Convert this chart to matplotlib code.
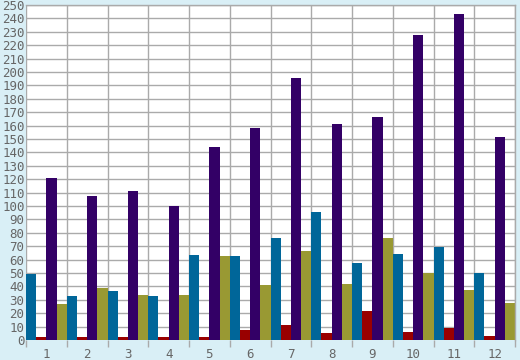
import numpy as np
import matplotlib
matplotlib.use("Agg")
import matplotlib.pyplot as plt

# Data
months = ["1", "2", "3", "4", "5", "6", "7", "8", "9", "10", "11", "12"]
blue = [49, 33, 36.5, 33, 63.5, 63, 76, 95.5, 57.5, 64, 69.5, 50]
red = [2, 2, 2.5, 2, 2.5, 7.5, 11, 5, 21.5, 6, 9, 3]
purple = [121, 107.5, 111, 100, 144, 158, 195.5, 161, 166.5, 227.5, 243.5, 151.5]
olive = [27, 39, 33.5, 33.5, 62.5, 41, 66.5, 42, 76, 50, 37.5, 27.5]

series = [blue, red, purple, olive]
colors = ["#006699", "#990000", "#330066", "#999933"]

bg = "#d9eff6"
grid_col = "#aaaaaa"
text_col = "#666666"

fig = plt.figure(figsize=(5.2, 3.6), dpi=100, facecolor=bg)
ax = fig.add_axes([26 / 520, 20 / 360, 489 / 520, 335 / 360])
ax.set_facecolor("white")

x = np.arange(len(months))
w = 0.25
for i, (vals, c) in enumerate(zip(series, colors)):
    ax.bar(x - 0.5 + w * (i + 0.5), vals, width=w, color=c, zorder=2, linewidth=0)

ax.set_xlim(-0.5, len(months) - 0.5)
ax.set_ylim(0, 250)
ax.set_yticks(np.arange(0, 251, 10))
ax.set_yticklabels([str(v) for v in range(0, 251, 10)])

# group boundaries as vertical grid lines / ticks
bounds = np.arange(-0.5, len(months) + 0.5, 1)
ax.set_xticks(bounds)
ax.set_xticklabels([])
ax.set_xticks(x, minor=True)
ax.set_xticklabels(months, minor=True)
ax.tick_params(axis="x", which="major", length=5, width=1, color=grid_col, direction="out")
ax.tick_params(axis="x", which="minor", length=0, pad=6, labelsize=9, labelcolor=text_col)
ax.tick_params(axis="y", length=0, pad=1, labelsize=9, labelcolor=text_col)
for lab in ax.get_xticklabels(minor=True) + ax.get_yticklabels():
    lab.set_family("DejaVu Sans Mono")

ax.grid(True, which="major", color=grid_col, linewidth=1, zorder=1)
for s in ["top", "right", "left", "bottom"]:
    ax.spines[s].set_color(grid_col)
    ax.spines[s].set_linewidth(1)
ax.spines["left"].set_visible(False)
ax.spines["bottom"].set_visible(False)

fig.savefig("out.png", dpi=100, facecolor=bg)
